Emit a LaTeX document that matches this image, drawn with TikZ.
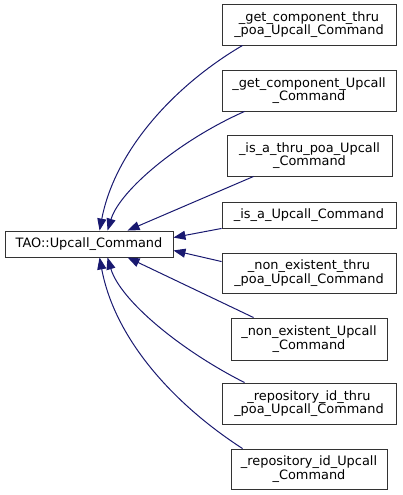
\documentclass[tikz,border=0pt]{standalone}
\usepackage{fontspec}
\setmainfont{DejaVu Sans}
\usetikzlibrary{arrows.meta}
\definecolor{edgeblue}{HTML}{191970}
\tikzset{
  box/.style={draw=black!80, line width=0.9pt, fill=white, inner sep=0pt, align=center,
    font=\fontsize{12.9}{13.5}\selectfont},
  dep/.style={draw=edgeblue, line width=1pt, -{Triangle[length=12pt,width=9pt]}}
}
\begin{document}
\begin{tikzpicture}[x=1pt,y=-1pt]
\useasboundingbox (0,0) rectangle (403,495);
\node[box, minimum width=168pt, minimum height=26pt] (m) at (89,244) {TAO::Upcall\_Command};
\node[box, minimum width=174pt, minimum height=41pt] (b1) at (309,24.5) {\_get\_component\_thru\\\_poa\_Upcall\_Command};
\node[box, minimum width=174pt, minimum height=41pt] (b2) at (309,90.5) {\_get\_component\_Upcall\\\_Command};
\node[box, minimum width=165pt, minimum height=41pt] (b3) at (309.5,155.5) {\_is\_a\_thru\_poa\_Upcall\\\_Command};
\node[box, minimum width=174pt, minimum height=26pt] (b4) at (309,215) {\_is\_a\_Upcall\_Command};
\node[box, minimum width=174pt, minimum height=40pt] (b5) at (309,273) {\_non\_existent\_thru\\\_poa\_Upcall\_Command};
\node[box, minimum width=156pt, minimum height=42pt] (b6) at (309,339) {\_non\_existent\_Upcall\\\_Command};
\node[box, minimum width=174pt, minimum height=41pt] (b7) at (309,403.5) {\_repository\_id\_thru\\\_poa\_Upcall\_Command};
\node[box, minimum width=156pt, minimum height=40pt] (b8) at (309,469) {\_repository\_id\_Upcall\\\_Command};

\draw[dep] ([xshift=21pt]b1.south west) .. controls (175,85) and (115,150) .. ([xshift=95pt]m.north west);
\draw[dep] ([xshift=23pt]b2.south west) .. controls (180,140) and (120,190) .. ([xshift=103pt]m.north west);
\draw[dep] ([xshift=27pt]b3.south west) -- ([xshift=123pt]m.north west);
\draw[dep] (b4.south west) -- ([yshift=-7pt]m.north east);
\draw[dep] ([yshift=-9pt]b5.north west) -- ([yshift=7pt]m.south east);
\draw[dep] ([xshift=23pt]b6.north west) -- ([xshift=123pt]m.south west);
\draw[dep] ([xshift=23pt]b7.north west) .. controls (180,350) and (120,300) .. ([xshift=103pt]m.south west);
\draw[dep] ([xshift=12pt]b8.north west) .. controls (175,405) and (115,340) .. ([xshift=95pt]m.south west);
\end{tikzpicture}
\end{document}
